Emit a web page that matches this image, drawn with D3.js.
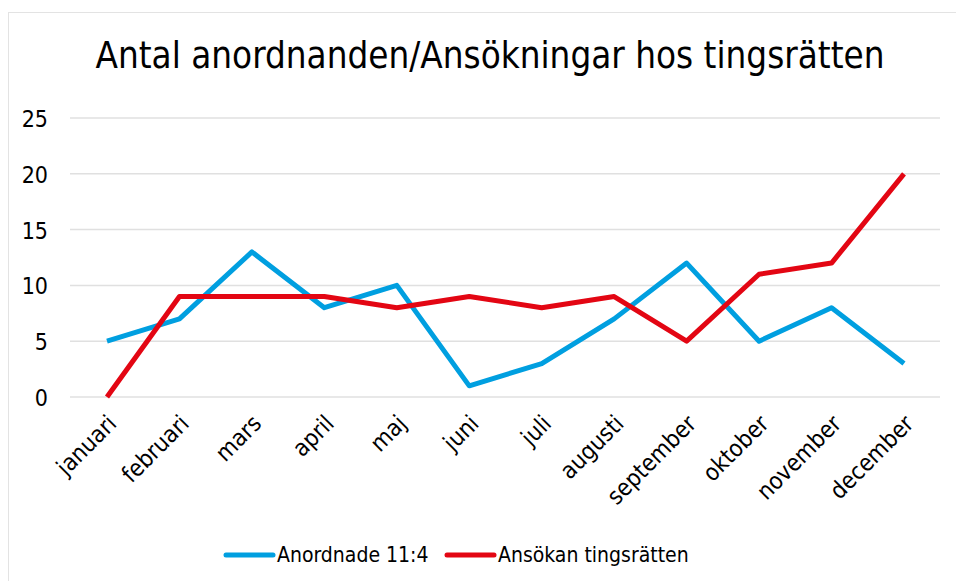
<!DOCTYPE html>
<html>
<head>
<meta charset="utf-8">
<script src="https://cdn.jsdelivr.net/npm/d3@7"></script>
<style>
  body { margin: 0; background: #fff; }
  text { font-family: "DejaVu Sans Condensed", "DejaVu Sans", Verdana, sans-serif; fill: #000; }
</style>
</head>
<body>
<svg id="mainsvg" width="956" height="581"></svg>
<script>
const months = ['januari', 'februari', 'mars', 'april', 'maj', 'juni',
                'juli', 'augusti', 'september', 'oktober', 'november', 'december'];
const anordnade = [5, 7, 13, 8, 10, 1, 3, 7, 12, 5, 8, 3];
const ansokan = [0, 9, 9, 9, 8, 9, 8, 9, 5, 11, 12, 20];
const yTicks = [0, 5, 10, 15, 20, 25];

const series = [
  {name: 'Anordnade 11:4', values: anordnade, color: '#009FE0'},
  {name: 'Ansökan tingsrätten', values: ansokan, color: '#E30613'}
];

var svg = d3.select('#mainsvg');

// outer frame
svg.append('rect')
  .attr('x', 8.5).attr('y', 12.5)
  .attr('width', 960).attr('height', 580)
  .attr('fill', 'none')
  .attr('stroke', '#e3e3e3');

svg.append('text')
  .attr('x', 490).attr('y', 68)
  .attr('text-anchor', 'middle')
  .attr('textLength', 789)
  .attr('lengthAdjust', 'spacingAndGlyphs')
  .style('font-size', '38px')
  .text('Antal anordnanden/Ansökningar hos tingsrätten');

var x = d3.scalePoint().domain(months).range([107, 904]);
var y = d3.scaleLinear().domain([0, 25]).range([397, 118]);

var g = svg.append('g');

// gridlines
g.selectAll('.grid').data(yTicks).enter().append('line')
  .attr('x1', 70).attr('x2', 940)
  .attr('y1', d => y(d)).attr('y2', d => y(d))
  .attr('stroke', '#e0e0e0')
  .attr('stroke-width', 1.5);

g.selectAll('.ylab').data(yTicks).enter().append('text')
  .attr('x', 48).attr('y', d => y(d) + 9)
  .attr('text-anchor', 'end')
  .style('font-size', '23px')
  .text(d => d);

g.selectAll('.xlab').data(months).enter().append('text')
  .attr('text-anchor', 'end')
  .attr('transform', d => 'translate(' + (x(d) + 11) + ',425) rotate(-45)')
  .style('font-size', '23.5px')
  .text(d => d);

var line = d3.line()
  .x((d, i) => x(months[i]))
  .y(d => y(d));

g.selectAll('.series').data(series).enter().append('path')
  .attr('d', d => line(d.values))
  .attr('fill', 'none')
  .attr('stroke', d => d.color)
  .attr('stroke-width', 5)
  .attr('stroke-linejoin', 'round');

// legend
var legend = svg.append('g');
var lx = [226, 447];
series.forEach(function(s, i) {
  legend.append('line')
    .attr('x1', lx[i]).attr('x2', lx[i] + 47)
    .attr('y1', 555).attr('y2', 555)
    .attr('stroke', s.color)
    .attr('stroke-width', 5)
    .attr('stroke-linecap', 'round');
  legend.append('text')
    .attr('x', lx[i] + 51).attr('y', 562)
    .style('font-size', '21px')
    .text(s.name);
});
</script>
</body>
</html>
